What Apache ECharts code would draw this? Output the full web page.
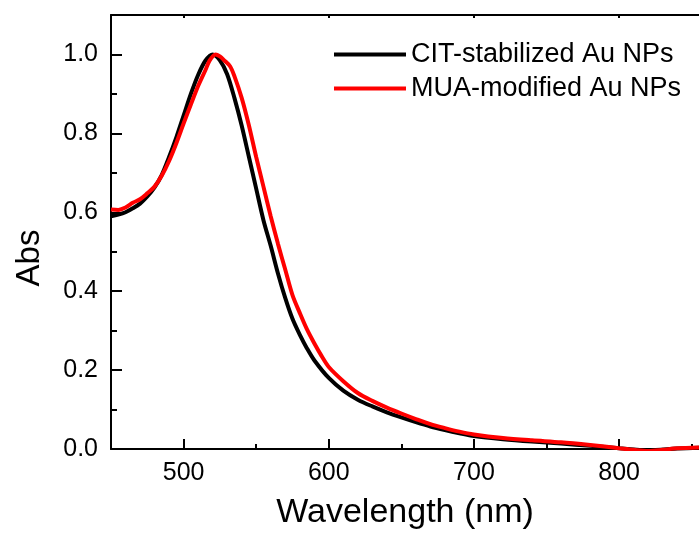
<!DOCTYPE html>
<html>
<head>
<meta charset="utf-8">
<script src="https://cdn.jsdelivr.net/npm/echarts@6/dist/echarts.min.js"></script>
<style>
  html, body { margin: 0; padding: 0; background: #fff; }
  #chart { width: 699px; height: 535px; }
</style>
</head>
<body>
<div id="chart"></div>
<script>
// wavelength (nm) and absorbance
var citWave = [450, 455, 460, 465, 470, 475, 480, 485, 490, 495, 500, 505, 510, 515, 520, 525, 530, 535, 540, 545, 550, 555, 560, 565, 570, 575, 580, 585, 590, 600, 610, 620, 630, 640, 650, 660, 670, 680, 690, 700, 720, 740, 760, 780, 800, 820, 840, 855];
var citAbs  = [0.590, 0.594, 0.600, 0.610, 0.622, 0.640, 0.663, 0.695, 0.740, 0.790, 0.845, 0.900, 0.948, 0.984, 1.000, 0.985, 0.950, 0.890, 0.820, 0.740, 0.660, 0.580, 0.515, 0.445, 0.383, 0.330, 0.290, 0.255, 0.225, 0.180, 0.148, 0.125, 0.108, 0.093, 0.080, 0.068, 0.057, 0.048, 0.040, 0.033, 0.025, 0.019, 0.014, 0.008, 0.002, -0.003, 0.001, 0.003];

var muaWave = [450, 455, 460, 465, 470, 475, 480, 485, 490, 495, 500, 505, 510, 515, 518, 522, 525, 528, 532, 535, 540, 545, 550, 555, 560, 565, 570, 575, 580, 585, 590, 595, 600, 610, 620, 630, 640, 650, 660, 670, 680, 690, 700, 720, 740, 760, 780, 800, 810, 820, 830, 840, 855];
var muaAbs  = [0.607, 0.606, 0.612, 0.624, 0.633, 0.648, 0.665, 0.693, 0.730, 0.775, 0.825, 0.873, 0.920, 0.960, 0.985, 1.000, 0.995, 0.985, 0.970, 0.945, 0.890, 0.820, 0.740, 0.665, 0.590, 0.520, 0.455, 0.390, 0.345, 0.303, 0.268, 0.236, 0.208, 0.172, 0.142, 0.122, 0.105, 0.090, 0.076, 0.063, 0.053, 0.044, 0.037, 0.028, 0.022, 0.017, 0.010, 0.002, -0.002, -0.005, -0.002, 0.002, 0.004];

var xMajor = [500, 600, 700, 800];
var xMinor = [450, 550, 650, 750, 850];
var yMajor = [0, 0.2, 0.4, 0.6, 0.8, 1.0];
var yMinor = [0.1, 0.3, 0.5, 0.7, 0.9];

function pairs(xs, ys) {
  var out = [];
  for (var i = 0; i < xs.length; i++) out.push([xs[i], ys[i]]);
  return out;
}

var font = '"Liberation Sans", Arial, sans-serif';
var axisLine = { show: true, lineStyle: { color: '#000', width: 2 } };

var chart = echarts.init(document.getElementById('chart'));

chart.setOption({
  animation: false,
  textStyle: { fontFamily: font, color: '#000' },
  grid: { left: 111, right: 0, top: 15, bottom: 82, containLabel: false },
  legend: {
    orient: 'vertical',
    left: 329,
    top: 36,
    icon: 'rect',
    itemWidth: 72,
    itemHeight: 4,
    itemGap: 7,
    textStyle: { fontFamily: font, fontSize: 27, lineHeight: 27, color: '#000' },
    data: ['CIT-stabilized Au NPs', 'MUA-modified Au NPs']
  },
  xAxis: [{
    type: 'value',
    position: 'bottom',
    min: 450,
    max: 855,
    name: 'Wavelength (nm)',
    nameLocation: 'middle',
    nameGap: 47,
    nameTextStyle: { fontFamily: font, fontSize: 34, color: '#000' },
    axisLine: axisLine,
    splitLine: { show: false },
    axisTick: { show: true, inside: true, length: 10, lineStyle: { width: 2, color: '#000' }, customValues: xMajor },
    axisLabel: { fontFamily: font, fontSize: 25, color: '#000', margin: 12, customValues: xMajor }
  }, {
    // minor ticks on the bottom
    type: 'value',
    position: 'bottom',
    offset: 0,
    min: 450,
    max: 855,
    axisLine: { show: false },
    splitLine: { show: false },
    axisTick: { show: true, inside: true, length: 5, lineStyle: { width: 2, color: '#000' }, customValues: xMinor },
    axisLabel: { show: false }
  }, {
    // top frame
    type: 'value',
    position: 'top',
    min: 450,
    max: 855,
    axisLine: axisLine,
    splitLine: { show: false },
    axisTick: { show: true, inside: true, length: 3, lineStyle: { width: 2, color: '#000' }, customValues: xMajor },
    axisLabel: { show: false }
  }],
  yAxis: [{
    type: 'value',
    position: 'left',
    min: 0,
    max: 1.1,
    name: 'Abs',
    nameLocation: 'middle',
    nameGap: 65,
    nameTextStyle: { fontFamily: font, fontSize: 33, color: '#000', padding: [0, 52, 0, 0] },
    axisLine: axisLine,
    splitLine: { show: false },
    axisTick: { show: true, inside: true, length: 11, lineStyle: { width: 2, color: '#000' }, customValues: yMajor },
    axisLabel: {
      fontFamily: font, fontSize: 25, color: '#000', margin: 13, customValues: yMajor,
      formatter: function (v) { return v.toFixed(1); }
    }
  }, {
    // minor ticks on the left
    type: 'value',
    position: 'left',
    offset: 0,
    min: 0,
    max: 1.1,
    axisLine: { show: false },
    splitLine: { show: false },
    axisTick: { show: true, inside: true, length: 6, lineStyle: { width: 2, color: '#000' }, customValues: yMinor },
    axisLabel: { show: false }
  }],
  series: [{
    name: 'CIT-stabilized Au NPs',
    type: 'line',
    xAxisIndex: 0,
    yAxisIndex: 0,
    data: pairs(citWave, citAbs),
    smooth: 0.3,
    symbol: 'none',
    itemStyle: { color: '#000000' },
    lineStyle: { color: '#000000', width: 4 }
  }, {
    name: 'MUA-modified Au NPs',
    type: 'line',
    xAxisIndex: 0,
    yAxisIndex: 0,
    data: pairs(muaWave, muaAbs),
    smooth: 0.3,
    symbol: 'none',
    itemStyle: { color: '#ff0000' },
    lineStyle: { color: '#ff0000', width: 4 }
  }]
});
</script>
</body>
</html>
